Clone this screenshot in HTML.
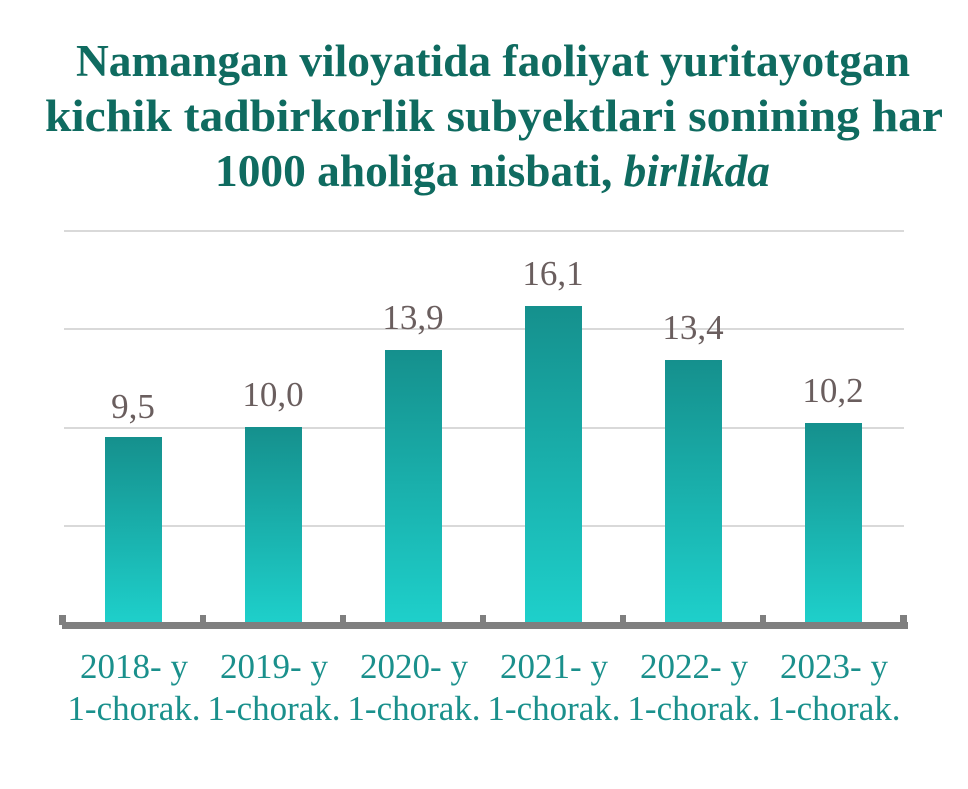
<!DOCTYPE html>
<html><head><meta charset="utf-8"><style>
body{margin:0;background:#fff;width:968px;height:784px;overflow:hidden}
</style></head><body>
<svg width="968" height="784" xmlns="http://www.w3.org/2000/svg" font-family="Liberation Serif, serif">
<defs><linearGradient id="g2" x1="0" y1="0" x2="0" y2="1"><stop offset="0" stop-color="#15908d"/><stop offset="1" stop-color="#1ed0cb"/></linearGradient></defs>
<g font-weight="bold" font-size="45" fill="#0f6b60">
<text x="76" y="76" textLength="834" lengthAdjust="spacingAndGlyphs">Namangan viloyatida faoliyat yuritayotgan</text>
<text x="45" y="131" textLength="898" lengthAdjust="spacingAndGlyphs">kichik tadbirkorlik subyektlari sonining har</text>
<text x="215" y="186" textLength="555" lengthAdjust="spacingAndGlyphs">1000 aholiga nisbati, <tspan font-style="italic">birlikda</tspan></text>
</g>
<g stroke="#d9d9d9" stroke-width="2">
<line x1="64" x2="904" y1="231" y2="231"/><line x1="64" x2="904" y1="329" y2="329"/><line x1="64" x2="904" y1="428" y2="428"/><line x1="64" x2="904" y1="526" y2="526"/>
</g>
<g fill="url(#g2)">
<rect x="105" y="437" width="57" height="187"/>
<rect x="245" y="427" width="57" height="197"/>
<rect x="385" y="350" width="57" height="274"/>
<rect x="525" y="306" width="57" height="318"/>
<rect x="665" y="360" width="57" height="264"/>
<rect x="805" y="423" width="57" height="201"/>
</g>
<g fill="#7f7f7f">
<rect x="62" y="622" width="846" height="7"/>
<rect x="59" y="615" width="7" height="10"/><rect x="200" y="615" width="6" height="10"/><rect x="340" y="615" width="6" height="10"/><rect x="480" y="615" width="6" height="10"/><rect x="620" y="615" width="6" height="10"/><rect x="760" y="615" width="6" height="10"/><rect x="900" y="615" width="7" height="10"/>
</g>
<g font-size="35" fill="#6a5e5e" text-anchor="middle">
<text x="133" y="418">9,5</text><text x="273" y="406">10,0</text><text x="413" y="329">13,9</text><text x="553" y="285">16,1</text><text x="693" y="339">13,4</text><text x="833" y="402">10,2</text>
</g>
<g font-size="35" fill="#1a908c" text-anchor="middle">
<text x="134" y="678">2018- y</text><text x="274" y="678">2019- y</text><text x="414" y="678">2020- y</text><text x="554" y="678">2021- y</text><text x="694" y="678">2022- y</text><text x="834" y="678">2023- y</text>
<text x="134" y="720">1-chorak.</text><text x="274" y="720">1-chorak.</text><text x="414" y="720">1-chorak.</text><text x="554" y="720">1-chorak.</text><text x="694" y="720">1-chorak.</text><text x="834" y="720">1-chorak.</text>
</g>
</svg>
</body></html>
